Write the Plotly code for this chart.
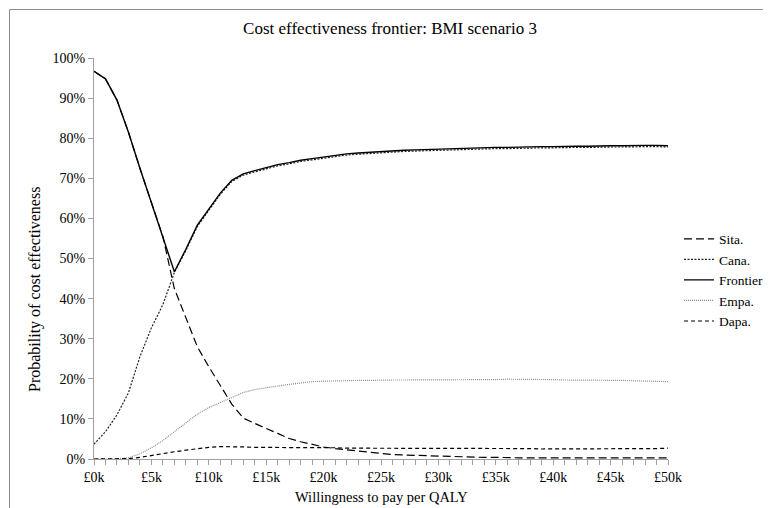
import plotly.graph_objects as go

# Willingness to pay, £k (0..50 in £1k steps)
wtp_k = list(range(0, 51))

sita = [96.7, 94.8, 89.5, 81.5, 72.5, 64.0, 55.5, 42.5, 35.0, 28.0,
        23.0, 18.2, 13.7, 10.2, 8.8, 7.6, 6.4, 5.1, 4.3, 3.6,
        3.0, 2.6, 2.3, 2.0, 1.6, 1.3, 1.1, 1.0, 0.9, 0.8,
        0.7, 0.7, 0.6, 0.5, 0.4, 0.4, 0.3, 0.3, 0.3, 0.3,
        0.3, 0.3, 0.3, 0.3, 0.3, 0.3, 0.3, 0.3, 0.3, 0.3, 0.3]

cana = [3.7, 6.8, 11.0, 16.5, 25.5, 32.7, 38.5, 46.5, 52.0, 58.0,
        62.0, 66.0, 69.2, 70.8, 71.6, 72.4, 73.1, 73.6, 74.2, 74.6,
        75.0, 75.4, 75.8, 76.0, 76.2, 76.4, 76.6, 76.7, 76.8, 76.9,
        77.0, 77.1, 77.2, 77.2, 77.3, 77.4, 77.4, 77.5, 77.5, 77.6,
        77.6, 77.7, 77.7, 77.7, 77.8, 77.8, 77.8, 77.9, 77.9, 77.9, 77.8]

frontier = [96.7, 94.8, 89.5, 81.5, 72.5, 64.0, 55.5, 46.7, 52.3, 58.3,
            62.3, 66.3, 69.5, 71.1, 71.9, 72.7, 73.4, 73.9, 74.5, 74.9,
            75.3, 75.7, 76.1, 76.3, 76.5, 76.7, 76.9, 77.0, 77.1, 77.2,
            77.3, 77.4, 77.5, 77.5, 77.6, 77.7, 77.7, 77.8, 77.8, 77.9,
            77.9, 78.0, 78.0, 78.0, 78.1, 78.1, 78.1, 78.2, 78.2, 78.2, 78.1]

empa = [0.0, 0.0, 0.0, 0.3, 1.3, 2.8, 4.6, 6.8, 8.9, 11.2,
        12.8, 14.1, 15.5, 16.6, 17.3, 17.8, 18.2, 18.6, 19.0, 19.3,
        19.4, 19.5, 19.5, 19.6, 19.6, 19.7, 19.7, 19.7, 19.7, 19.7,
        19.7, 19.8, 19.7, 19.8, 19.8, 19.8, 19.9, 19.9, 19.9, 19.8,
        19.8, 19.7, 19.7, 19.7, 19.7, 19.6, 19.6, 19.5, 19.4, 19.4, 19.3]

dapa = [0.0, 0.0, 0.0, 0.1, 0.4, 0.9, 1.4, 1.8, 2.2, 2.6,
        2.9, 3.1, 3.1, 3.0, 2.9, 2.9, 2.9, 2.9, 2.8, 2.8,
        2.8, 2.8, 2.7, 2.7, 2.7, 2.7, 2.7, 2.7, 2.7, 2.7,
        2.7, 2.7, 2.7, 2.7, 2.7, 2.7, 2.6, 2.6, 2.6, 2.5,
        2.5, 2.5, 2.5, 2.5, 2.5, 2.5, 2.5, 2.5, 2.5, 2.6, 2.7]

x_tick_vals = [0, 5, 10, 15, 20, 25, 30, 35, 40, 45, 50]
x_tick_text = ["£0k", "£5k", "£10k", "£15k", "£20k", "£25k", "£30k", "£35k", "£40k", "£45k", "£50k"]
y_tick_vals = [0, 10, 20, 30, 40, 50, 60, 70, 80, 90, 100]
y_tick_text = [f"{v}%" for v in y_tick_vals]

FONT = "Liberation Serif, Times New Roman, serif"
W, H = 771, 508
L, R, T, B = 86, 111, 50, 57
pw, ph = W - L - R, H - T - B

fig = go.Figure()
fig.add_trace(go.Scatter(x=wtp_k, y=sita, name="Sita.", mode="lines",
                         line=dict(color="black", width=1.2, dash="8px,4px")))
fig.add_trace(go.Scatter(x=wtp_k, y=cana, name="Cana.", mode="lines",
                         line=dict(color="#222222", width=1.2, dash="2px,1.5px")))
fig.add_trace(go.Scatter(x=wtp_k, y=frontier, name="Frontier", mode="lines",
                         line=dict(color="black", width=1.4)))
fig.add_trace(go.Scatter(x=wtp_k, y=empa, name="Empa.", mode="lines",
                         line=dict(color="#8c8c8c", width=1.2, dash="1px,1px")))
fig.add_trace(go.Scatter(x=wtp_k, y=dapa, name="Dapa.", mode="lines",
                         line=dict(color="black", width=1.2, dash="4px,3px")))

def px2x(p):
    return (p - L) / pw

def py2y(p):
    return (H - B - p) / ph

fig.update_layout(
    width=W, height=H,
    margin=dict(l=L, r=R, t=T, b=B, autoexpand=False),
    paper_bgcolor="white", plot_bgcolor="white",
    font=dict(family=FONT, size=14, color="black"),
    title=dict(text="Cost effectiveness frontier: BMI scenario 3",
               x=px2x(382), xref="paper", xanchor="center",
               y=1 - 20 / H, yref="container", yanchor="middle",
               font=dict(family=FONT, size=17, color="black")),
    showlegend=True,
    legend=dict(x=px2x(671), y=py2y(272), xanchor="left", yanchor="middle",
                font=dict(family=FONT, size=13.5, color="black"),
                bgcolor="rgba(0,0,0,0)", tracegroupgap=0, itemwidth=30),
    xaxis=dict(range=[0, 50], tickvals=x_tick_vals, ticktext=x_tick_text,
               showgrid=False, zeroline=False, showline=True,
               linecolor="#a0a0a0", linewidth=1,
               ticks="outside", ticklen=5, tickcolor="#a0a0a0",
               minor=dict(dtick=1, ticks="outside", ticklen=5, tickcolor="#a0a0a0", showgrid=False),
               tickfont=dict(family=FONT, size=14, color="black")),
    yaxis=dict(range=[0, 100], tickvals=y_tick_vals, ticktext=y_tick_text,
               showgrid=False, zeroline=False, showline=True,
               linecolor="#a0a0a0", linewidth=1,
               ticks="outside", ticklen=5, tickcolor="#a0a0a0",
               tickfont=dict(family=FONT, size=14, color="black")),
    annotations=[
        dict(text="Willingness to pay per QALY", x=px2x(373), y=py2y(489),
             xref="paper", yref="paper", showarrow=False,
             xanchor="center", yanchor="middle",
             font=dict(family=FONT, size=14.5, color="black")),
        dict(text="Probability of cost effectiveness", x=px2x(27), y=py2y(282),
             xref="paper", yref="paper", showarrow=False, textangle=-90,
             xanchor="center", yanchor="middle",
             font=dict(family=FONT, size=16, color="black")),
    ],
    shapes=[dict(type="rect", xref="paper", yref="paper",
                 x0=px2x(1.5), x1=px2x(W - 1.5), y0=py2y(H - 1.5), y1=py2y(1.5),
                 line=dict(color="#8c8c8c", width=1), fillcolor="rgba(0,0,0,0)",
                 layer="below")],
)

fig.write_html("out.html")
